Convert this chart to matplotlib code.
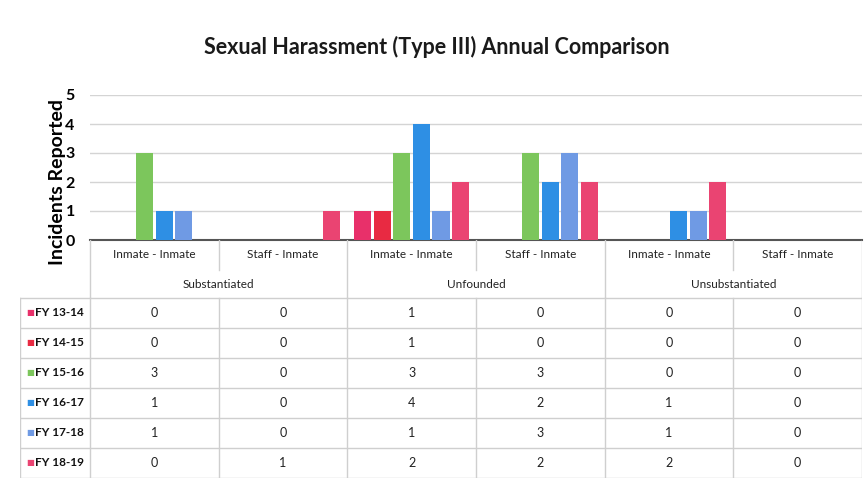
import numpy as np
import matplotlib
matplotlib.use("Agg")
import matplotlib.pyplot as plt

plt.rcParams['font.family'] = ['Lato', 'DejaVu Sans']

# data
sub_cats = ['Inmate - Inmate', 'Staff - Inmate'] * 3
groups = ['Substantiated', 'Unfounded', 'Unsubstantiated']
series = ['FY 13-14', 'FY 14-15', 'FY 15-16', 'FY 16-17', 'FY 17-18', 'FY 18-19']
fy13_14 = [0, 0, 1, 0, 0, 0]
fy14_15 = [0, 0, 1, 0, 0, 0]
fy15_16 = [3, 0, 3, 3, 0, 0]
fy16_17 = [1, 0, 4, 2, 1, 0]
fy17_18 = [1, 0, 1, 3, 1, 0]
fy18_19 = [0, 1, 2, 2, 2, 0]
values = [fy13_14, fy14_15, fy15_16, fy16_17, fy17_18, fy18_19]
colors = ['#e8306a', '#e82a42', '#7cc65c', '#2e8fe4', '#6f9ae4', '#ea4472']

W, H = 867, 487
fig = plt.figure(figsize=(W / 100, H / 100), dpi=100)

def px(x0, y0, x1, y1):
    return [x0 / W, 1 - y1 / H, (x1 - x0) / W, (y1 - y0) / H]

fig.text(437 / W, 1 - 47 / H, 'Sexual Harassment (Type III) Annual Comparison',
         ha='center', va='center', fontsize=15.5, fontweight='bold', color='#1a1a1a')

# bar chart
ax = fig.add_axes(px(90, 95, 862, 240))
n = len(series)
x = np.arange(len(sub_cats))
slot = 0.152
for i, (name, vals) in enumerate(zip(series, values)):
    ax.bar(x + (i - (n - 1) / 2) * slot, vals, width=slot * 0.88,
           color=colors[i], zorder=3)
ax.set_xlim(-0.5, len(sub_cats) - 0.5)
ax.set_ylim(0, 5)
ax.set_yticks(range(6))
ax.tick_params(axis='y', length=0, pad=11, labelsize=11.5)
for lab in ax.get_yticklabels():
    lab.set_fontweight('bold')
ax.set_xticks([])
ax.grid(axis='y', color='#d4d4d4', linewidth=1, zorder=0)
for s in ['top', 'right', 'left']:
    ax.spines[s].set_visible(False)
ax.spines['bottom'].set_color('#555555')
ax.spines['bottom'].set_linewidth(1.5)
ax.set_ylabel('Incidents Reported', fontsize=14, fontweight='bold', labelpad=0)
ax.yaxis.set_label_coords(-0.031, 0.40)

# data table under the chart
tab = fig.add_axes(px(20, 240, 862, 478))
x_left = -0.5 - (90 - 20) / (772 / 6)
tab.set_xlim(x_left, 5.5)
tab.set_ylim(478, 240)
tab.axis('off')
lc = '#cfcfcf'
row_h = 30
top = 298
# header rows
for j, name in enumerate(sub_cats):
    tab.text(j, 255, name, ha='center', va='center', fontsize=8.5, color='#222222')
for g, name in enumerate(groups):
    tab.text(2 * g + 0.5, 284, name, ha='center', va='center', fontsize=8.5, color='#222222')
for j in range(7):
    xb = j - 0.5
    y_end = 297 if j % 2 == 0 else 270
    tab.plot([xb, xb], [240, y_end], color=lc, lw=1)
# data rows
for r, name in enumerate(series):
    yc = top + (r + 0.5) * row_h
    tab.text(x_left + 0.05, yc, '\u25a0', ha='left', va='center', fontsize=6, color=colors[r])
    tab.text(x_left + 0.115, yc, name, ha='left', va='center', fontsize=8.5,
             fontweight='bold', color='#111111')
    for j, v in enumerate(values[r]):
        tab.text(j, yc, str(v), ha='center', va='center', fontsize=9, color='#222222')
for r in range(n + 1):
    yb = top + r * row_h
    tab.plot([x_left, 5.5], [yb, yb], color=lc, lw=1)
for xb in [x_left] + [j - 0.5 for j in range(7)]:
    tab.plot([xb, xb], [top, top + n * row_h], color=lc, lw=1)

fig.savefig('out.png', dpi=100)
